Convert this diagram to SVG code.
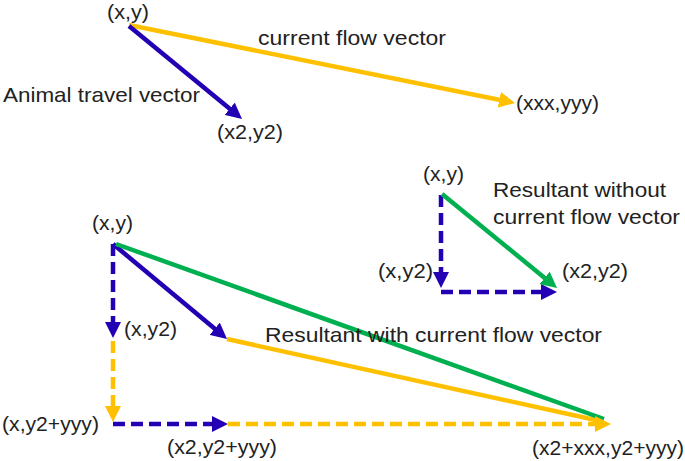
<svg xmlns="http://www.w3.org/2000/svg" width="685" height="461" viewBox="0 0 685 461">
<style>
text{font-family:"Liberation Sans","DejaVu Sans",sans-serif;font-size:21px;fill:#222}
.b{stroke:#2300B4;stroke-width:4.5;fill:none}
.y{stroke:#FFC000;stroke-width:4.5;fill:none}
.g{stroke:#00B050;stroke-width:4.5;fill:none}
.d{stroke-dasharray:12 6}
</style>
<defs>
<marker id="ab" viewBox="0 0 16 16" markerWidth="16" markerHeight="16" markerUnits="userSpaceOnUse" refX="6" refY="8" orient="auto"><path d="M0,0 L16,8 L0,16 z" fill="#2300B4"/></marker>
<marker id="ay" viewBox="0 0 16 16" markerWidth="16" markerHeight="16" markerUnits="userSpaceOnUse" refX="6" refY="8" orient="auto"><path d="M0,0 L16,8 L0,16 z" fill="#FFC000"/></marker>
<marker id="ag" viewBox="0 0 16 16" markerWidth="16" markerHeight="16" markerUnits="userSpaceOnUse" refX="6" refY="8" orient="auto"><path d="M0,0 L16,8 L0,16 z" fill="#00B050"/></marker>
</defs>
<g id="connectors">
<line class="y" x1="129" y1="25" x2="505.2" y2="101" marker-end="url(#ay)"/>
<line class="b" x1="129" y1="26" x2="234.3" y2="112.6" marker-end="url(#ab)"/>
<line class="b d" x1="441" y1="195" x2="441" y2="278" marker-end="url(#ab)"/>
<line class="b d" x1="441" y1="292" x2="547" y2="292" marker-end="url(#ab)"/>
<line class="g" x1="442" y1="194" x2="549.3" y2="281.7" marker-end="url(#ag)"/>
<line class="b d" x1="113" y1="244" x2="113" y2="328" marker-end="url(#ab)"/>
<line class="y d" x1="113" y1="341" x2="113" y2="412" marker-end="url(#ay)"/>
<line class="b d" x1="113" y1="424" x2="218" y2="424" marker-end="url(#ab)"/>
<line class="b" x1="113" y1="244" x2="219.3" y2="332.6" marker-end="url(#ab)"/>
<line class="y" x1="227" y1="339" x2="600" y2="421"/>
<line class="g" x1="116" y1="244" x2="604" y2="419"/>
<line class="y d" x1="228" y1="424" x2="601" y2="424" marker-end="url(#ay)"/>
</g>
<g id="top-labels">
<text x="107" y="19" textLength="42" lengthAdjust="spacingAndGlyphs">(x,y)</text>
<text x="258" y="45" textLength="188" lengthAdjust="spacingAndGlyphs">current flow vector</text>
<text x="3" y="102" textLength="197" lengthAdjust="spacingAndGlyphs">Animal travel vector</text>
<text x="217" y="139" textLength="66" lengthAdjust="spacingAndGlyphs">(x2,y2)</text>
<text x="516" y="110" textLength="83" lengthAdjust="spacingAndGlyphs">(xxx,yyy)</text>
</g>
<g id="right-labels">
<text x="423" y="181" textLength="41" lengthAdjust="spacingAndGlyphs">(x,y)</text>
<text x="493" y="197" textLength="173" lengthAdjust="spacingAndGlyphs">Resultant without</text>
<text x="493" y="224" textLength="187" lengthAdjust="spacingAndGlyphs">current flow vector</text>
<text x="378" y="278" textLength="55" lengthAdjust="spacingAndGlyphs">(x,y2)</text>
<text x="562" y="278" textLength="66" lengthAdjust="spacingAndGlyphs">(x2,y2)</text>
</g>
<g id="bottom-labels">
<text x="92" y="230" textLength="41" lengthAdjust="spacingAndGlyphs">(x,y)</text>
<text x="124" y="336" textLength="53" lengthAdjust="spacingAndGlyphs">(x,y2)</text>
<text x="265" y="342" textLength="337" lengthAdjust="spacingAndGlyphs">Resultant with current flow vector</text>
<text x="2" y="431" textLength="97" lengthAdjust="spacingAndGlyphs">(x,y2+yyy)</text>
<text x="167" y="454" textLength="110" lengthAdjust="spacingAndGlyphs">(x2,y2+yyy)</text>
<text x="532" y="455" textLength="152" lengthAdjust="spacingAndGlyphs">(x2+xxx,y2+yyy)</text>
</g>
</svg>
